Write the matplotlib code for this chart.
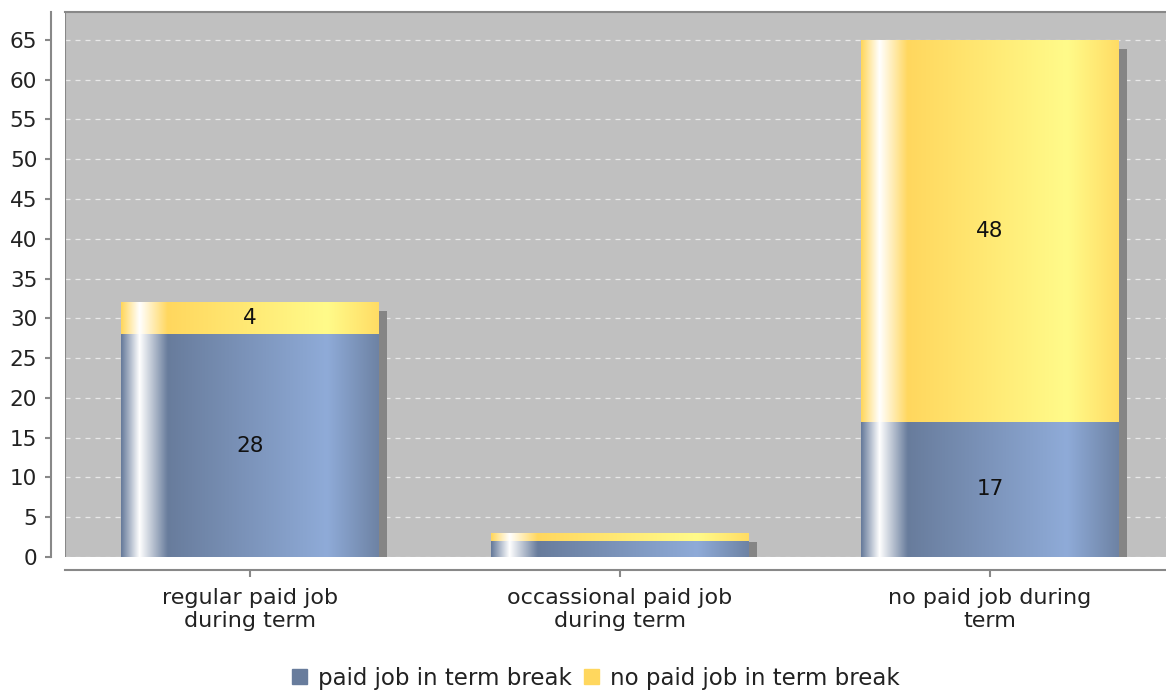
import numpy as np
import matplotlib.pyplot as plt
from matplotlib.patches import Rectangle
from matplotlib.colors import to_rgb

categories = ['regular paid job\nduring term', 'occassional paid job\nduring term', 'no paid job during\nterm']
paid_break = [28, 2, 17]
no_paid_break = [4, 1, 48]
series_names = ['paid job in term break', 'no paid job in term break']
y_ticks = list(range(0, 70, 5))

base_colors = ['#687c9c', '#ffd75e']
bright_colors = ['#8fabd8', '#fffb8a']

W, H = 1166, 691
fig = plt.figure(figsize=(W / 100, H / 100), dpi=100)
# plot area runs a little past the right edge of the image, like the original
ax = fig.add_axes([65 / W, 1 - 557 / H, 1110 / W, 545 / H])
ax.set_facecolor('#c0c0c0')

bar_w = 0.697
dx = 8 / 370.0
dy = 9 * 68.5 / 545
fs = 15.5


def gradient_strip(c0, c1, n=200):
    # cylinder-like shading: base->white->base->bright->base
    c0 = np.array(to_rgb(c0))
    c1 = np.array(to_rgb(c1))
    white = np.array([1.0, 1.0, 1.0])
    t = np.linspace(0, 1, n)
    out = np.zeros((n, 3))
    for i, v in enumerate(t):
        if v < 0.07:
            f = v / 0.07
            out[i] = c0 * (1 - f) + white * f
        elif v < 0.18:
            f = (v - 0.07) / 0.11
            out[i] = white * (1 - f) + c0 * f
        elif v < 0.80:
            f = (v - 0.18) / 0.62
            out[i] = c0 * (1 - f) + c1 * f
        else:
            f = (v - 0.80) / 0.20
            out[i] = c1 * (1 - f) + (c0 * 0.85 + c1 * 0.15) * f
    return out[np.newaxis, :, :]


x = np.arange(len(categories))
for i in range(len(categories)):
    total = paid_break[i] + no_paid_break[i]
    x0 = x[i] - bar_w / 2
    # shadow
    ax.add_patch(Rectangle((x0 + dx, 0), bar_w, total - dy, color='#858585', zorder=2, lw=0))
    bottom = 0
    for s, vals in enumerate([paid_break, no_paid_break]):
        v = vals[i]
        img = gradient_strip(base_colors[s], bright_colors[s])
        ax.imshow(img, extent=(x0, x0 + bar_w, bottom, bottom + v), aspect='auto',
                  interpolation='bilinear', zorder=3)
        if v >= 4:
            ax.text(x[i], bottom + v / 2, str(v), ha='center', va='center', fontsize=fs,
                    color='#111111', zorder=4)
        bottom += v

ax.set_xlim(-0.5, 2.5)
ax.set_ylim(0, 68.5)

ax.set_yticks(y_ticks)
ax.yaxis.grid(True, color='#e8e8e8', linestyle=(0, (4, 4)), linewidth=0.9)
ax.set_axisbelow(True)
ax.set_xticks(x)
ax.set_xticklabels(categories, linespacing=1.4)
ax.tick_params(axis='y', labelsize=fs, length=4, color='#888888', width=1.5, pad=6,
               labelcolor='#222222')
ax.tick_params(axis='x', labelsize=16, length=5, color='#888888', width=1.5, pad=8,
               labelcolor='#222222')

ax.spines['right'].set_visible(False)
ax.spines['top'].set_color('#888888')
ax.spines['top'].set_linewidth(1.5)
ax.spines['left'].set_position(('outward', 10))
ax.spines['bottom'].set_position(('outward', 9))
for side in ['left', 'bottom']:
    ax.spines[side].set_color('#888888')
    ax.spines[side].set_linewidth(1.5)
# left edge of the plot frame
ax.axvline(-0.5, color='#888888', lw=1.5, zorder=5)

handles = [Rectangle((0, 0), 1, 1, color=base_colors[0]), Rectangle((0, 0), 1, 1, color=base_colors[1])]
leg = fig.legend(handles, series_names, loc='center', bbox_to_anchor=(596 / W, 1 - 678 / H), ncol=2,
                 frameon=False, fontsize=16.5, handlelength=0.65, handleheight=0.65,
                 handletextpad=0.5, columnspacing=0.5)
for t in leg.get_texts():
    t.set_color('#222222')

fig.savefig('out.png', dpi=100)
